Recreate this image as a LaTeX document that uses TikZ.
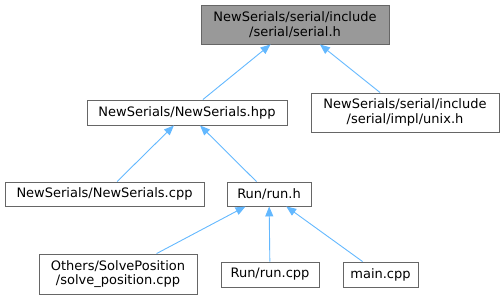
\documentclass[tikz,border=0pt]{standalone}
\usepackage{fontspec}
\setmainfont{DejaVu Sans}
\usepackage{tikz}
\usetikzlibrary{positioning,calc}
\usetikzlibrary{arrows.meta}
\definecolor{EdgeBlue}{RGB}{99,184,255}
\definecolor{BoxLine}{RGB}{102,102,102}
\definecolor{RootFill}{RGB}{153,153,153}
\tikzset{
  file/.style={draw=BoxLine,fill=white,line width=0.9pt,inner sep=0pt,align=center,
    font=\fontsize{13}{14.5}\selectfont},
  root/.style={file,fill=RootFill},
  dep/.style={draw=EdgeBlue,line width=0.9pt,-{Triangle[length=10pt,width=8pt]}},
}

\begin{document}
\begin{tikzpicture}[x=1pt,y=-1pt]
\useasboundingbox (0,0) rectangle (503,300);
\node[root,minimum width=188pt,minimum height=39pt] (serialh) at (295,24.5)
  {NewSerials/serial/include\\/serial/serial.h};
\node[file,minimum width=200pt,minimum height=25pt] (hpp) at (187,112.5)
  {NewSerials/NewSerials.hpp};
\node[file,minimum width=188pt,minimum height=39pt] (unixh) at (405,112.5)
  {NewSerials/serial/include\\/serial/impl/unix.h};
\node[file,minimum width=199pt,minimum height=24pt] (cpp) at (104.5,194)
  {NewSerials/NewSerials.cpp};
\node[file,minimum width=84pt,minimum height=24pt] (runh) at (269,194)
  {Run/run.h};
\node[file,minimum width=158pt,minimum height=40pt] (solve) at (118,274)
  {Others/SolvePosition\\/solve\_position.cpp};
\node[file,minimum width=98pt,minimum height=25pt] (runcpp) at (270,274.5)
  {Run/run.cpp};
\node[file,minimum width=75pt,minimum height=25pt] (mainc) at (380.5,274.5)
  {main.cpp};
\draw[dep] (hpp) -- (serialh);
\draw[dep] (unixh) -- (serialh);
\draw[dep] (cpp) -- (hpp);
\draw[dep] (runh) -- (hpp);
\draw[dep] (solve) -- (runh);
\draw[dep] (runcpp) -- (runh);
\draw[dep] (mainc) -- (runh);
\end{tikzpicture}
\end{document}
